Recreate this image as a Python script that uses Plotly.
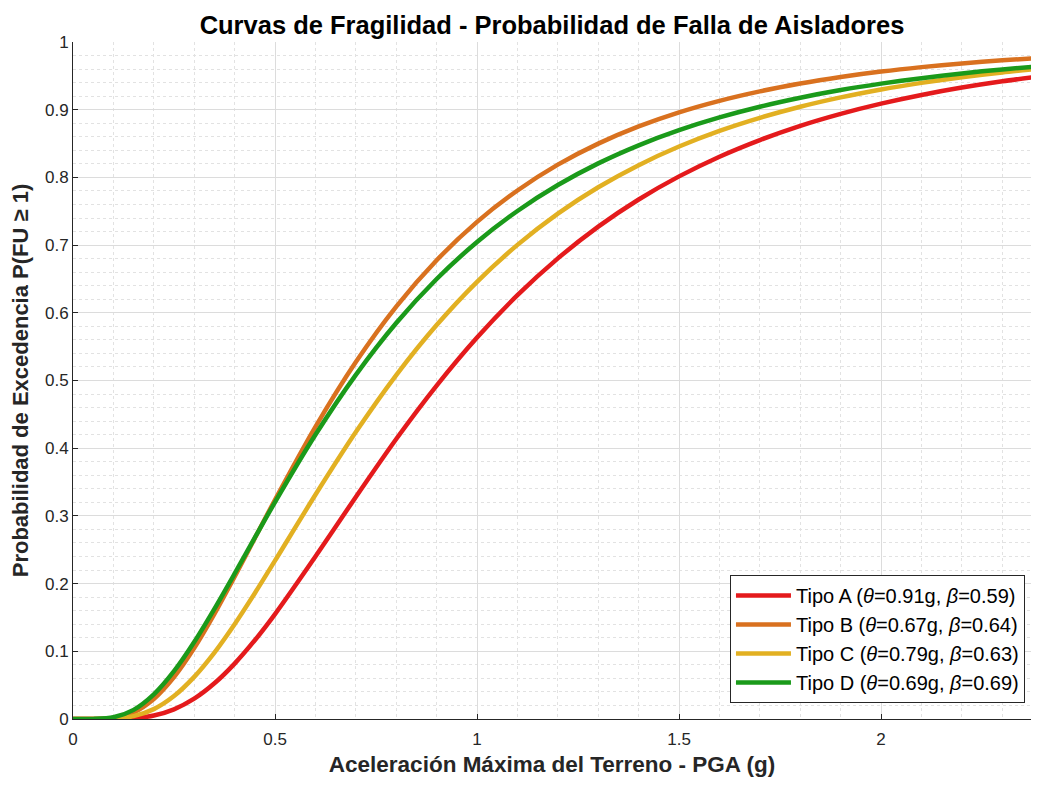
import plotly.graph_objs as go

# PGA values (g) and exceedance probabilities
pga = [0, 0.05, 0.1, 0.15, 0.2, 0.25, 0.3, 0.35, 0.4, 0.45, 0.5, 0.6, 0.7,
       0.8, 0.9, 1.0, 1.1, 1.2, 1.3, 1.4, 1.5, 1.6, 1.7, 1.8, 1.9, 2.0,
       2.1, 2.2, 2.3, 2.4]

tipo_a = [0, 0, 0.0001, 0.0011, 0.0051, 0.0143, 0.030, 0.0527, 0.0818, 0.1163,
          0.155, 0.240, 0.328, 0.4136, 0.4925, 0.5635, 0.626, 0.6804, 0.7273,
          0.7674, 0.8015, 0.8306, 0.8552, 0.8762, 0.8939, 0.909, 0.9218,
          0.9327, 0.942, 0.9499]
tipo_b = [0, 0, 0.0015, 0.0097, 0.0295, 0.0618, 0.1047, 0.1552, 0.2101, 0.267,
          0.3238, 0.4316, 0.5273, 0.6092, 0.6776, 0.7343, 0.7807, 0.8188, 0.8499,
          0.8753, 0.8961, 0.9131, 0.9271, 0.9387, 0.9483, 0.9563, 0.9629,
          0.9684, 0.973, 0.9769]
tipo_c = [0, 0, 0.0005, 0.0042, 0.0146, 0.0339, 0.0622, 0.0981, 0.140, 0.1858,
          0.2339, 0.3312, 0.4238, 0.508, 0.5819, 0.6458, 0.7003, 0.7465, 0.7854,
          0.8181, 0.8456, 0.8687, 0.888, 0.9044, 0.9182, 0.9298, 0.9396,
          0.948, 0.9551, 0.9611]
tipo_d = [0, 0.0001, 0.0026, 0.0135, 0.0364, 0.0706, 0.1137, 0.1627, 0.2147, 0.2678,
          0.3204, 0.4198, 0.5083, 0.5849, 0.6499, 0.7046, 0.7504, 0.7887, 0.8207,
          0.8474, 0.8698, 0.8886, 0.9044, 0.9177, 0.929, 0.9385, 0.9466,
          0.9536, 0.9595, 0.9646]

names = ["Tipo A (<i>θ</i>=0.91g, <i>β</i>=0.59)",
         "Tipo B (<i>θ</i>=0.67g, <i>β</i>=0.64)",
         "Tipo C (<i>θ</i>=0.79g, <i>β</i>=0.63)",
         "Tipo D (<i>θ</i>=0.69g, <i>β</i>=0.69)"]
colors = ["#e41a1c", "#d9711f", "#e2b022", "#1a9a1a"]
series = [tipo_a, tipo_b, tipo_c, tipo_d]

fig = go.Figure()

for name, color, ys in zip(names, colors, series):
    fig.add_trace(go.Scatter(x=pga, y=ys, mode='lines', name=name,
                             line=dict(color=color, width=4.5, shape='spline', smoothing=0.8)))

font_family = "Liberation Sans, Arial, sans-serif"
axis_color = "#262626"

# page has an 8px body margin, so the figure is sized to avoid scrollbars
fig.update_layout(
    width=1023, height=769,
    margin=dict(l=65, r=0, t=34, b=58),
    paper_bgcolor="white", plot_bgcolor="white",
    font=dict(family=font_family, color=axis_color, size=17),
    title=dict(text="<b>Curvas de Fragilidad - Probabilidad de Falla de Aisladores</b>",
               x=0.5, xref="paper", xanchor="center", y=0.978, yanchor="middle",
               font=dict(size=25.5, color="black")),
    legend=dict(x=0.9937, y=0.0236, xanchor="right", yanchor="bottom",
                bgcolor="white", bordercolor=axis_color, borderwidth=1,
                font=dict(size=20, color="black"), tracegroupgap=0,
                itemwidth=55),
    showlegend=True,
)

fig.update_xaxes(
    range=[0, 2.371], tickvals=[0, 0.5, 1, 1.5, 2], ticktext=["0", "0.5", "1", "1.5", "2"],
    ticks="inside", ticklen=5, tickcolor=axis_color, automargin=False,
    ticklabelstandoff=5,
    showline=True, linecolor=axis_color, linewidth=1, mirror=False,
    showgrid=True, gridcolor="#dcdcdc", gridwidth=1,
    minor=dict(dtick=0.1, showgrid=True, gridcolor="#e2e2e2", griddash="dot", ticks=""),
    zeroline=False,
    title=dict(text="<b>Aceleración Máxima del Terreno - PGA (g)</b>",
               font=dict(size=22.5, color=axis_color), standoff=10),
)
fig.update_yaxes(
    range=[0, 1], dtick=0.1, tickformat="~g",
    ticks="inside", ticklen=5, tickcolor=axis_color, automargin=False,
    showline=True, linecolor=axis_color, linewidth=1,
    showgrid=True, gridcolor="#dcdcdc", gridwidth=1,
    minor=dict(dtick=0.02, showgrid=True, gridcolor="#e2e2e2", griddash="dot", ticks=""),
    zeroline=False,
    title=dict(text="<b>Probabilidad de Excedencia P(FU ≥ 1)</b>",
               font=dict(size=22, color=axis_color), standoff=10),
)

fig.write_html("out.html")
